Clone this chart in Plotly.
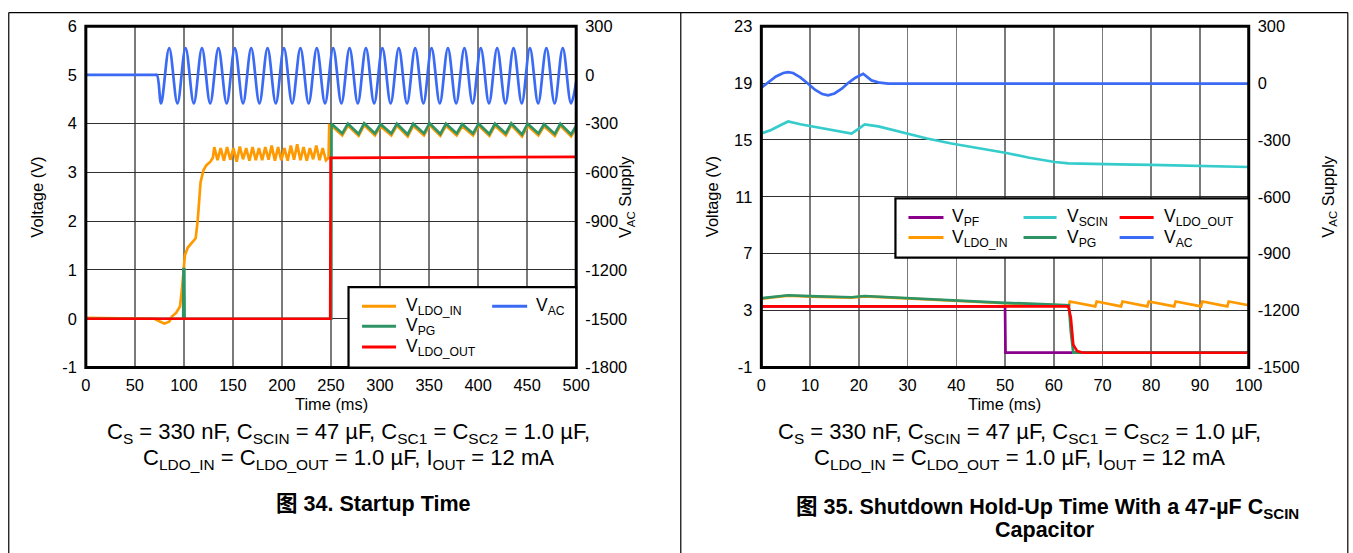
import plotly.graph_objects as go

# Page size and mapping from reference-pixel coordinates to paper coordinates.
# (the capture maps the page slightly scaled/offset; coordinates below are in reference pixels)
WF, HF = 1373, 573
SX, SY = 0.9854, 0.9647
OX, OY = 4.3, 8.2
def px(x): return (x / SX - OX) / WF
def py(y): return 1 - (y / SY - OY) / HF
FS = 1.0 / 0.975  # font compensation

ORANGE = "#FF9900"
GREEN = "#2E9465"
RED = "#FF0000"
BLUE = "#3B6BF5"
PURPLE = "#8B008B"
CYAN = "#36CCCC"

# ---------------- Left chart: Startup Time ----------------
L_AC_PRE_T = [0, 70, 72.5]
L_AC_PRE_V = [0, 0, 0]
L_AC_TROUGH_T = [76.7, 93.4, 110.1, 126.8, 143.6, 160.3, 177.0, 193.7, 210.4, 227.2, 243.9, 260.6, 277.3,
                 294.0, 310.8, 327.5, 344.2, 360.9, 377.6, 394.4, 411.1, 427.8, 444.5, 461.2, 478.0, 494.7]
L_AC_PEAK_T = [85.0, 101.7, 118.4, 135.2, 151.9, 168.6, 185.3, 202.0, 218.8, 235.5, 252.2, 268.9, 285.6,
               302.4, 319.1, 335.8, 352.5, 369.2, 386.0, 402.7, 419.4, 436.1, 452.8, 469.6, 486.3]
L_AC_TROUGH_V = -175
L_AC_PEAK_V = 165
L_AC_END_T = 500
L_AC_END_V = -40

L_IN_T = [0, 70, 75, 80, 85, 88, 92, 96, 98, 99.5, 101, 104, 108, 112, 114, 117, 120, 123, 127, 129.5,
          131, 134.3, 137.5, 140.8, 144, 147.3, 150.5, 153.8, 157, 160.3, 163.5, 166.8, 170, 173.3,
          176.5, 179.8, 183, 186.3, 189.5, 192.8, 196, 199.3, 202.5, 205.8, 209, 212.3, 215.5, 218.8,
          222, 225.3, 228.5, 231.8, 235, 238.3, 241.5, 244.8, 247.5, 248.2]
L_IN_V = [0.02, 0, -0.05, -0.1, -0.06, 0.05, 0.12, 0.25, 0.6, 1.05, 1.3, 1.46, 1.55, 1.65, 2.0, 2.8, 3.05,
          3.15, 3.22, 3.3,
          3.52, 3.25, 3.5, 3.24, 3.52, 3.26, 3.5, 3.22, 3.53, 3.27, 3.5, 3.24, 3.52, 3.25,
          3.5, 3.25, 3.52, 3.26, 3.55, 3.24, 3.52, 3.25, 3.5, 3.24, 3.55, 3.26, 3.58, 3.25,
          3.52, 3.24, 3.5, 3.27, 3.55, 3.25, 3.5, 3.25, 3.3, 3.97]

L_SAW_T = [250.5, 261.5, 267.2, 278.2, 283.8, 294.8, 300.5, 311.5, 317.2, 328.2, 333.8, 344.8, 350.5,
           361.5, 367.2, 378.2, 383.8, 394.8, 400.5, 411.5, 417.2, 428.2, 433.8, 444.8, 450.5, 461.5,
           467.2, 478.2, 483.8, 494.8, 500]
L_SAW_V = [4.0, 3.8, 4.0, 3.79, 4.01, 3.8, 3.99, 3.8, 4.0, 3.78, 4.0, 3.8, 4.01, 3.79, 4.0, 3.8, 3.99,
           3.8, 4.0, 3.79, 4.0, 3.8, 4.01, 3.78, 4.0, 3.8, 3.99, 3.79, 4.0, 3.78, 3.96]

L_PG_PRE_T = [0, 99.3, 99.6, 100.4, 100.7, 250.3]
L_PG_PRE_V = [0, 0, 1.02, 1.02, 0, 0]

L_OUT_T = [0, 249.2, 249.6, 500]
L_OUT_V = [0, 0, 3.3, 3.32]

# ---------------- Right chart: Shutdown ----------------
R_AC_T = [0, 1.5, 3, 4.5, 5.5, 6.5, 8, 9.6, 11, 12.5, 13.7, 15, 16.5, 17.8, 19.3, 20.9, 21.8, 22.6, 24.3, 26, 100]
R_AC_V = [-25, 5, 35, 53, 58, 53, 30, -4, -35, -58, -65, -55, -30, 0, 28, 49, 30, 14, 2, -3, -3]

R_SC_T = [0, 2, 4, 5.5, 8, 12, 16, 18.5, 20, 21.2, 24, 29.4, 34, 39, 45, 50, 55, 60.2, 63, 68, 73.2, 80, 86.9, 93, 100]
R_SC_V = [15.45, 15.7, 16.05, 16.3, 16.1, 15.85, 15.6, 15.45, 15.8, 16.1, 15.95, 15.5, 15.1, 14.75, 14.4,
          14.1, 13.75, 13.45, 13.35, 13.3, 13.28, 13.25, 13.2, 13.15, 13.1]

R_PG_T = [0, 2, 5.5, 10, 15, 18.5, 21.2, 25, 30, 40, 50, 60, 63.1, 63.5, 64.0, 100]
R_PG_V = [3.87, 3.95, 4.08, 4.02, 3.96, 3.94, 4.03, 3.96, 3.88, 3.72, 3.55, 3.42, 3.37, 1.5, 0.05, 0.05]

R_IN_T = [0, 2, 5.5, 10, 15, 18.5, 21.2, 25, 30, 40, 50, 60, 63.1,
          63.3, 68.5, 68.8, 73.8, 74.1, 79.2, 79.5, 84.7, 85.0, 90.2, 90.5, 95.6, 95.9, 100]
R_IN_V = [3.84, 3.92, 4.05, 3.99, 3.93, 3.91, 4.0, 3.93, 3.85, 3.69, 3.52, 3.39, 3.34,
          3.64, 3.3, 3.64, 3.3, 3.64, 3.3, 3.64, 3.3, 3.64, 3.3, 3.64, 3.3, 3.64, 3.38]

R_OUT_T = [0, 63.0, 63.5, 64.0, 64.8, 66, 100]
R_OUT_V = [3.3, 3.3, 2.5, 0.6, 0.15, 0.04, 0.04]

R_PF_T = [0, 50.0, 50.1, 100]
R_PF_V = [3.3, 3.3, 0.05, 0.05]

# ---------------- tick labels ----------------
L_XTICKS = [0, 50, 100, 150, 200, 250, 300, 350, 400, 450, 500]
R_XTICKS = [0, 10, 20, 30, 40, 50, 60, 70, 80, 90, 100]
L_YTICKS = [-1, 0, 1, 2, 3, 4, 5, 6]
L_YTEXT = ["-1", "0", "1", "2", "3", "4", "5", "6"]
L_Y2TICKS = [-1800, -1500, -1200, -900, -600, -300, 0, 300]
L_Y2TEXT = ["-1800", "-1500", "-1200", "-900", "-600", "-300", "0", "300"]
R_YTICKS = [-1, 3, 7, 11, 15, 19, 23]
R_YTEXT = ["-1", "3", "7", "11", "15", "19", "23"]
R_Y2TICKS = [-1500, -1200, -900, -600, -300, 0, 300]
R_Y2TEXT = ["-1500", "-1200", "-900", "-600", "-300", "0", "300"]

for a, b in [(L_IN_T, L_IN_V), (L_SAW_T, L_SAW_V), (L_PG_PRE_T, L_PG_PRE_V), (R_AC_T, R_AC_V),
             (R_SC_T, R_SC_V), (R_PG_T, R_PG_V), (R_IN_T, R_IN_V), (R_OUT_T, R_OUT_V)]:
    assert len(a) == len(b), (len(a), len(b))

# build AC series for left chart (alternating troughs/peaks)
ac_t = list(L_AC_PRE_T)
ac_v = list(L_AC_PRE_V)
for i, tt in enumerate(L_AC_TROUGH_T):
    ac_t.append(tt); ac_v.append(L_AC_TROUGH_V)
    if i < len(L_AC_PEAK_T):
        ac_t.append(L_AC_PEAK_T[i]); ac_v.append(L_AC_PEAK_V)
ac_t.append(L_AC_END_T); ac_v.append(L_AC_END_V)

LW = 2.7
fig = go.Figure()

def line(x, y, color, xa, ya, shape="linear"):
    fig.add_trace(go.Scatter(x=x, y=y, mode="lines", xaxis=xa, yaxis=ya, showlegend=False,
                             hoverinfo="skip", line=dict(color=color, width=LW, shape=shape)))

# left
line(L_IN_T + L_SAW_T, L_IN_V + [v - 0.04 for v in L_SAW_V], ORANGE, "x", "y")
line(L_PG_PRE_T + L_SAW_T, L_PG_PRE_V + L_SAW_V, GREEN, "x", "y")
line(L_OUT_T, L_OUT_V, RED, "x", "y")
line(ac_t, ac_v, BLUE, "x", "y2", shape="spline")
# right
line(R_PF_T, R_PF_V, PURPLE, "x2", "y3")
line(R_IN_T, R_IN_V, ORANGE, "x2", "y3")
line(R_PG_T, R_PG_V, GREEN, "x2", "y3")
line(R_SC_T, R_SC_V, CYAN, "x2", "y3")
line(R_OUT_T, R_OUT_V, RED, "x2", "y3")
line(R_AC_T, R_AC_V, BLUE, "x2", "y4")

FONT = "Liberation Sans, Arial, Noto Sans CJK SC, sans-serif"
TF = dict(family=FONT, size=16 * FS, color="black")

xgrid = dict(showgrid=True, gridcolor="#7a7a7a", gridwidth=1.5, zeroline=False, showline=False,
             ticks="", tickfont=TF, ticklabelstandoff=6, fixedrange=True)
ygrid = dict(showgrid=True, gridcolor="#303030", gridwidth=1, zeroline=False, showline=False,
             ticks="", tickfont=TF, ticklabelstandoff=8, fixedrange=True)
yright = dict(showgrid=False, zeroline=False, showline=False, ticks="", tickfont=TF,
              ticklabelstandoff=8, fixedrange=True)

LY = [py(365), py(25)]
fig.update_layout(
    width=WF, height=HF, autosize=False,
    margin=dict(l=0, r=0, t=0, b=0),
    paper_bgcolor="white", plot_bgcolor="white",
    showlegend=False,
    xaxis=dict(domain=[px(85), px(575)], range=[0, 500], tickvals=L_XTICKS, anchor="y", **xgrid),
    yaxis=dict(domain=LY, range=[-1, 6], tickvals=L_YTICKS, ticktext=L_YTEXT, anchor="x", **ygrid),
    yaxis2=dict(overlaying="y", side="right", anchor="x", range=[-1800, 300],
                tickvals=L_Y2TICKS, ticktext=L_Y2TEXT, **yright),
    xaxis2=dict(domain=[px(760), px(1247)], range=[0, 100], tickvals=R_XTICKS, anchor="y3", **xgrid),
    yaxis3=dict(domain=LY, range=[-1, 23], tickvals=R_YTICKS, ticktext=R_YTEXT, anchor="x2", **ygrid),
    yaxis4=dict(overlaying="y3", side="right", anchor="x2", range=[-1500, 300],
                tickvals=R_Y2TICKS, ticktext=R_Y2TEXT, **yright),
)

shapes = []
# outer frame and divider
shapes.append(dict(type="line", xref="paper", yref="paper", x0=px(8), x1=px(1346), y0=py(11.5), y1=py(11.5),
                   line=dict(color="black", width=1.2)))
for xx in (8, 679.5, 1346):
    shapes.append(dict(type="line", xref="paper", yref="paper", x0=px(xx), x1=px(xx), y0=py(11.5), y1=py(560),
                       line=dict(color="black", width=1.2)))
# plot borders
shapes.append(dict(type="rect", xref="x domain", yref="y domain", x0=0, x1=1, y0=0, y1=1,
                   line=dict(color="black", width=3)))
shapes.append(dict(type="rect", xref="x2 domain", yref="y3 domain", x0=0, x1=1, y0=0, y1=1,
                   line=dict(color="black", width=3)))
# legend boxes
shapes.append(dict(type="rect", xref="paper", yref="paper", x0=px(347.5), x1=px(575), y0=py(365), y1=py(285),
                   fillcolor="white", line=dict(color="black", width=2.2), layer="above"))
shapes.append(dict(type="rect", xref="paper", yref="paper", x0=px(894), x1=px(1247), y0=py(255.5), y1=py(196.5),
                   fillcolor="white", line=dict(color="black", width=2.2), layer="above"))

annotations = []
def leg(x0, x1, y, color, label, tx):
    shapes.append(dict(type="line", xref="paper", yref="paper", x0=px(x0), x1=px(x1), y0=py(y), y1=py(y),
                       line=dict(color=color, width=3), layer="above"))
    annotations.append(dict(xref="paper", yref="paper", x=px(tx), y=py(y + 0.5), text=label, showarrow=False,
                            xanchor="left", yanchor="middle", font=dict(family=FONT, size=17 * FS, color="black")))

leg(361, 395, 304, ORANGE, "V<sub>LDO_IN</sub>", 403)
leg(361, 395, 324, GREEN, "V<sub>PG</sub>", 403)
leg(361, 395, 344.5, RED, "V<sub>LDO_OUT</sub>", 403)
leg(491, 526, 304, BLUE, "V<sub>AC</sub>", 533)

leg(907, 942, 215.5, PURPLE, "V<sub>PF</sub>", 949)
leg(907, 942, 235.5, ORANGE, "V<sub>LDO_IN</sub>", 949)
leg(1022, 1055, 215.5, CYAN, "V<sub>SCIN</sub>", 1063)
leg(1022, 1055, 235.5, GREEN, "V<sub>PG</sub>", 1063)
leg(1118, 1152, 215.5, RED, "V<sub>LDO_OUT</sub>", 1160)
leg(1118, 1152, 235.5, BLUE, "V<sub>AC</sub>", 1160)

def txt(x, y, text, size=16, angle=0, family=FONT, anchor="center"):
    annotations.append(dict(xref="paper", yref="paper", x=px(x), y=py(y), text=text, showarrow=False,
                            textangle=angle, xanchor=anchor, yanchor="middle",
                            font=dict(family=family, size=size * FS, color="black")))

# axis titles
txt(36, 195, "Voltage (V)", angle=-90)
txt(625, 195, "V<sub>AC</sub> Supply", angle=-90)
txt(330, 401, "Time (ms)")
txt(711, 195, "Voltage (V)", angle=-90)
txt(1327, 195, "V<sub>AC</sub> Supply", angle=-90)
txt(1003, 401, "Time (ms)")

# captions
CAP1 = "C<sub>S</sub> = 330 nF, C<sub>SCIN</sub> = 47 µF, C<sub>SC1</sub> = C<sub>SC2</sub> = 1.0 µF,"
CAP2 = "C<sub>LDO_IN</sub> = C<sub>LDO_OUT</sub> = 1.0 µF, I<sub>OUT</sub> = 12 mA"
txt(347, 430, CAP1, size=21.5)
txt(347, 456, CAP2, size=21.5)
txt(1018, 430, CAP1, size=21.5)
txt(1018, 456, CAP2, size=21.5)
txt(372, 501, "<b>图 34. Startup Time</b>", size=21)
txt(1046, 505, "<b>图 35. Shutdown Hold-Up Time With a 47-µF C<sub>SCIN</sub></b>", size=21)
txt(1043, 527, "<b>Capacitor</b>", size=21)

fig.update_layout(shapes=shapes, annotations=annotations)

POST = (
    "var gd=document.getElementById('{plot_id}');"
    "document.documentElement.style.margin='0';document.documentElement.style.padding='0';"
    "document.documentElement.style.overflow='hidden';"
    "document.body.style.margin='0';document.body.style.padding='0';document.body.style.overflow='hidden';"
    "gd.style.position='fixed';gd.style.left='0px';gd.style.top='0px';"
)
fig.write_html("out.html", config={"displayModeBar": False, "staticPlot": True}, post_script=POST)
